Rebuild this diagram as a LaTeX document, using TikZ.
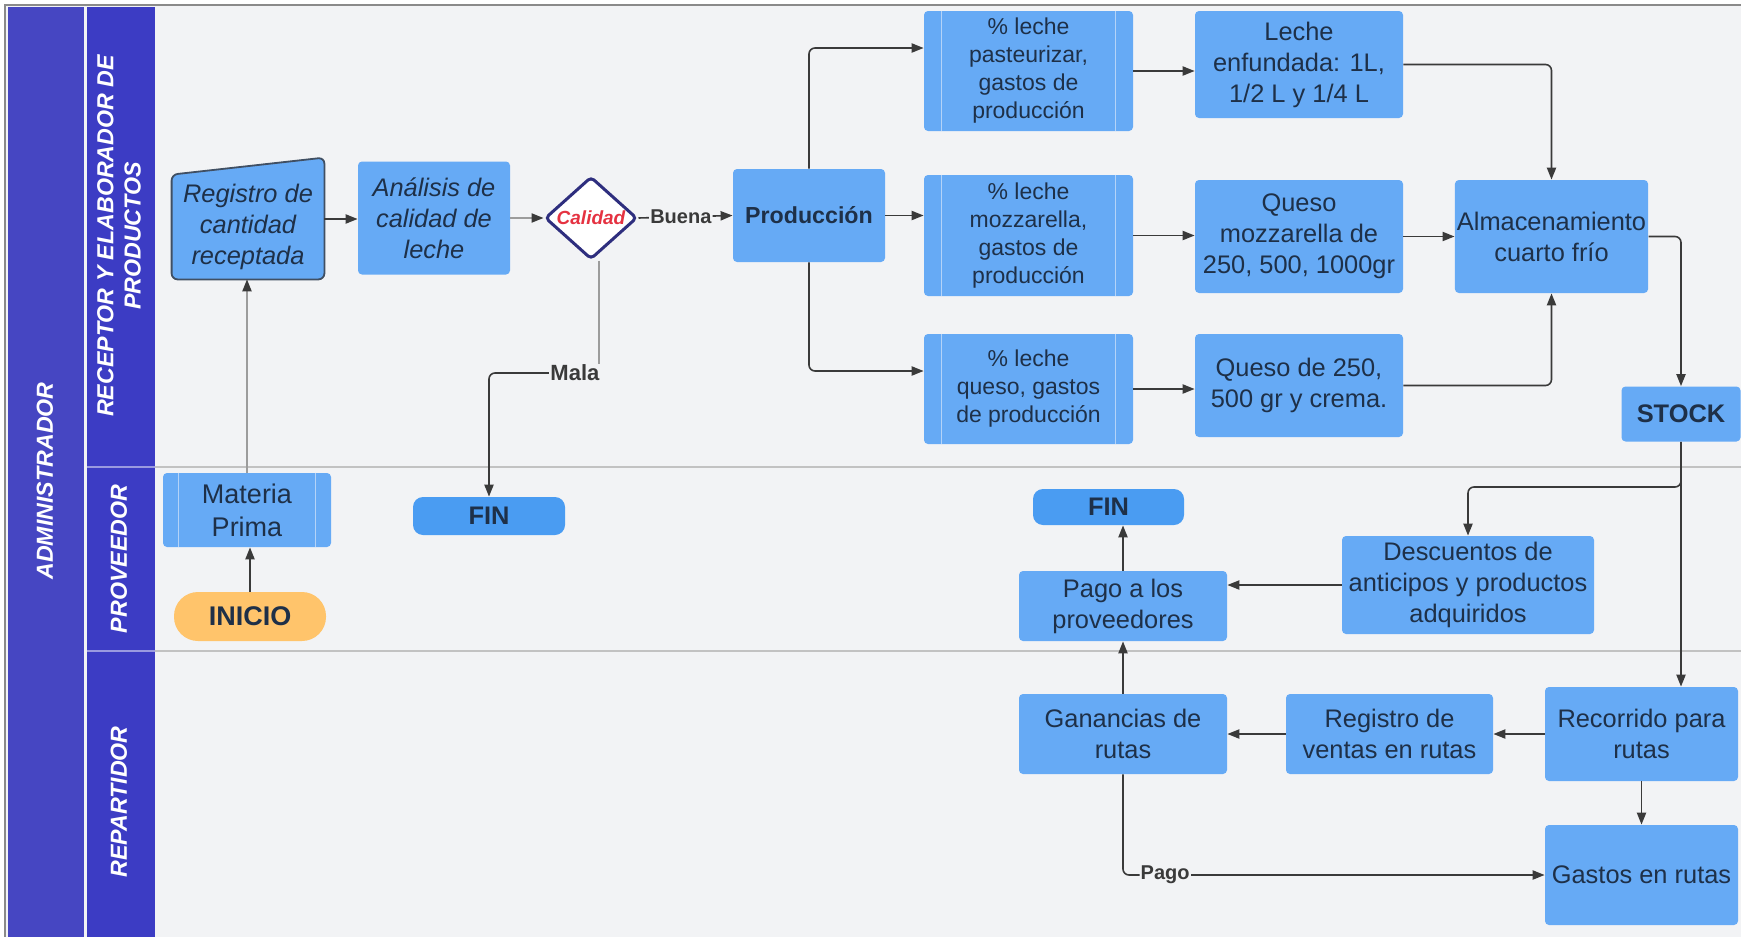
\documentclass[tikz,border=0pt]{standalone}
\usepackage{fontspec}
\setmainfont{Liberation Sans}
\usetikzlibrary{arrows.meta,shapes.geometric,calc}

\definecolor{boxblue}{HTML}{66AAF5}
\definecolor{finblue}{HTML}{4A9CF2}
\definecolor{startorange}{HTML}{FFC46B}
\definecolor{headcol}{HTML}{3C3CC4}
\definecolor{admincol}{HTML}{4646C2}
\definecolor{lanebg}{HTML}{F2F3F5}
\definecolor{txt}{HTML}{1E3048}
\definecolor{linedark}{HTML}{3A3A3A}
\definecolor{linegray}{HTML}{9C9C9C}
\definecolor{calred}{HTML}{E53241}
\definecolor{diaborder}{HTML}{2E2E7E}
\definecolor{subedge}{HTML}{B4D3F8}
\definecolor{laneline}{HTML}{C2C2C2}
\definecolor{headline}{HTML}{9A9AE0}
\definecolor{framegray}{HTML}{8A8A8A}

\pgfdeclarelayer{back}
\pgfsetlayers{back,main}

\tikzset{
  box/.style={rectangle, rounded corners=2pt, fill=boxblue, text=txt, align=center,
    inner sep=1pt, font=\fontsize{12.7pt}{15.5pt}\selectfont},
  subbox/.style={box, font=\fontsize{11.5pt}{14pt}\selectfont},
  term/.style={box, fill=finblue, rounded corners=5pt,
    font=\bfseries\fontsize{12.7pt}{15pt}\selectfont},
  subline/.style={draw=subedge, line width=0.6pt},
  conn/.style={draw=linedark, line width=0.8pt, rounded corners=3pt,
    -{Triangle[length=6pt,width=4.6pt,color=linedark]}},
  connlight/.style={conn, draw=linegray},
  plainlight/.style={draw=linegray, line width=0.8pt},
  lbl/.style={fill=lanebg, inner sep=0.6pt, text=linedark,
    font=\bfseries\fontsize{10pt}{12pt}\selectfont},
  lanehead/.style={rotate=90, text=white, align=center,
    font=\bfseries\itshape\fontsize{11.6pt}{13.6pt}\selectfont},
}

\begin{document}
\begin{tikzpicture}[x=0.5pt,y=-0.5pt]
\useasboundingbox (0,0) rectangle (1741,937);

% swimlane frame and headers
\begin{pgfonlayer}{back}
  \fill[white] (0,0) rectangle (1741,937);
  \fill[lanebg] (5,5) rectangle (1741,937);
  \fill[admincol] (8,7) rectangle (84,937);
  \fill[headcol] (87,7) rectangle (155,937);
  \draw[headline, line width=1pt] (87,467) -- (155,467) (87,651) -- (155,651);
  \draw[laneline, line width=1.2pt] (155,467) -- (1741,467) (155,651) -- (1741,651);
  \draw[framegray, line width=1pt] (1741,5) -- (5,5) -- (5,937);
\end{pgfonlayer}

\node[lanehead] (adm) at (45,481) {ADMINISTRADOR};
\node[lanehead] (h1) at (119,236) {RECEPTOR Y ELABORADOR DE\\PRODUCTOS};
\node[lanehead] (h2) at (119,559) {PROVEEDOR};
\node[lanehead] (h3) at (119,802) {REPARTIDOR};

% receptor lane
\node[box, fill=none, minimum width=76pt, minimum height=52pt,
      font=\itshape\fontsize{12.7pt}{15.5pt}\selectfont] (reg) at (248,227) {Registro de\\cantidad\\receptada};
\begin{pgfonlayer}{back}
  \filldraw[fill=boxblue, draw=txt!85, line width=0.9pt, rounded corners=3pt]
    (reg.south west) -- (reg.south east) -- ([yshift=8.5pt]reg.north east)
    -- (reg.north west) -- cycle;
\end{pgfonlayer}
\node[box, minimum width=76pt, minimum height=56.5pt,
      font=\itshape\fontsize{12.7pt}{15.5pt}\selectfont] (ana) at (434,218) {Análisis de\\calidad de\\leche};
\node[diamond, draw=diaborder, line width=1.5pt, fill=white, rounded corners=2pt,
      minimum width=46pt, minimum height=38.5pt, inner sep=0pt, text=calred,
      font=\bfseries\itshape\fontsize{9.5pt}{11pt}\selectfont] (cal) at (591,218) {Calidad};
\node[box, minimum width=76pt, minimum height=46.5pt,
      font=\bfseries\fontsize{11.6pt}{14pt}\selectfont] (pro) at (809,215.5) {Producción};

\node[subbox, minimum width=104.5pt, minimum height=60pt] (b1) at (1028.5,71) {\% leche\\pasteurizar,\\gastos de\\producción};
\node[subbox, minimum width=104.5pt, minimum height=60.5pt] (b2) at (1028.5,235.5) {\% leche\\mozzarella,\\gastos de\\producción};
\node[subbox, minimum width=104.5pt, minimum height=55pt] (b3) at (1028.5,389) {\% leche\\queso, gastos\\de producción};
\foreach \b in {b1,b2,b3}{
  \draw[subline] ([xshift=9pt]\b.north west) -- ([xshift=9pt]\b.south west);
  \draw[subline] ([xshift=-9pt]\b.north east) -- ([xshift=-9pt]\b.south east);
}

\node[box, minimum width=104pt, minimum height=53.5pt] (leche) at (1299,64.5) {Leche\\enfundada: 1L,\\1/2 L y 1/4 L};
\node[box, minimum width=104pt, minimum height=56.5pt] (qm) at (1299,236.5) {Queso\\mozzarella de\\250, 500, 1000gr};
\node[box, minimum width=104pt, minimum height=51.5pt] (q250) at (1299,385.5) {Queso de 250,\\500 gr y crema.};
\node[box, minimum width=95.5pt, minimum height=56.5pt] (alm) at (1551.5,236.5) {Almacenamiento\\cuarto frío};
\node[box, minimum width=59.5pt, minimum height=27.5pt,
      font=\bfseries\fontsize{12.7pt}{15pt}\selectfont] (stock) at (1681,414) {STOCK};

% proveedor lane
\node[box, minimum width=84pt, minimum height=37pt,
      font=\fontsize{13.5pt}{16.6pt}\selectfont] (mat) at (247,510) {Materia\\Prima};
\draw[subline] ([xshift=8pt]mat.north west) -- ([xshift=8pt]mat.south west);
\draw[subline] ([xshift=-8pt]mat.north east) -- ([xshift=-8pt]mat.south east);
\node[box, fill=startorange, rounded corners=12pt, minimum width=76pt, minimum height=24.5pt,
      font=\bfseries\fontsize{13.5pt}{16pt}\selectfont] (ini) at (250,616.5) {INICIO};
\node[term, minimum width=76pt, minimum height=19pt] (fin1) at (489,516) {FIN};
\node[term, minimum width=75.5pt, minimum height=18pt] (fin2) at (1108.5,507) {FIN};
\node[box, minimum width=104pt, minimum height=35pt] (pago) at (1123,606) {Pago a los\\proveedores};
\node[box, minimum width=126pt, minimum height=49pt] (desc) at (1468,585) {Descuentos de\\anticipos y productos\\adquiridos};

% repartidor lane
\node[box, minimum width=104pt, minimum height=40pt] (gan) at (1123,734) {Ganancias de\\rutas};
\node[box, minimum width=103.5pt, minimum height=40pt] (regv) at (1389.5,734) {Registro de\\ventas en rutas};
\node[box, minimum width=96.5pt, minimum height=47pt] (rec) at (1641.5,734) {Recorrido para\\rutas};
\node[box, minimum width=96.5pt, minimum height=50pt] (gas) at (1641.5,875) {Gastos en rutas};

% connectors
\coordinate (malarow) at (0,373);
\coordinate (stockrow) at (0,487);
\coordinate (calout) at ([xshift=4pt]cal.south);
\coordinate (regout) at ([yshift=4pt]reg.east);

\draw[conn] (ini.north) -- (ini.north |- mat.south);
\draw[connlight] (mat.north) -- (mat.north |- reg.south);
\draw[conn] (regout) -- (regout -| ana.west);
\draw[connlight] (ana.east) -- (ana.east -| cal.west);
\draw[conn] (cal.east) -- node[lbl, pos=0.45] (buena) {Buena} (pro.west);
\draw[plainlight] (calout) -- (calout |- malarow);
\draw[conn] (calout |- malarow) -| (fin1.north);
\node[lbl, anchor=east, font=\bfseries\fontsize{11pt}{13pt}\selectfont] (mala) at ([xshift=1pt]calout |- malarow) {Mala};

\draw[conn] (pro.north) |- ([yshift=11.5pt]b1.west);
\draw[conn] (pro.east) -- (pro.east -| b2.west);
\draw[conn] (pro.south) |- ([yshift=9pt]b3.west);
\draw[conn] (b1.east) -- (b1.east -| leche.west);
\draw[conn] (b2.east) -- (b2.east -| qm.west);
\draw[conn] (b3.east) -- (b3.east -| q250.west);
\draw[conn] (leche.east) -| (alm.north);
\draw[conn] (qm.east) -- (qm.east -| alm.west);
\draw[conn] (q250.east) -| (alm.south);
\draw[conn] (alm.east) -| (stock.north);
\draw[conn] (stock.south) |- (desc.north |- stockrow) -- (desc.north);
\draw[conn] (stock.south) -- (stock.south |- rec.north);
\draw[conn] (desc.west) -- (desc.west -| pago.east);
\draw[conn] (pago.north) -- (pago.north |- fin2.south);
\draw[conn] (rec.west) -- (rec.west -| regv.east);
\draw[conn] (regv.west) -- (regv.west -| gan.east);
\draw[conn] (gan.north) -- (gan.north |- pago.south);
\draw[conn] (rec.south) -- (rec.south |- gas.north);
\draw[conn] (gan.south) |- node[lbl, pos=0.55] (pagolbl) {Pago} (gas.west);

\end{tikzpicture}
\end{document}
